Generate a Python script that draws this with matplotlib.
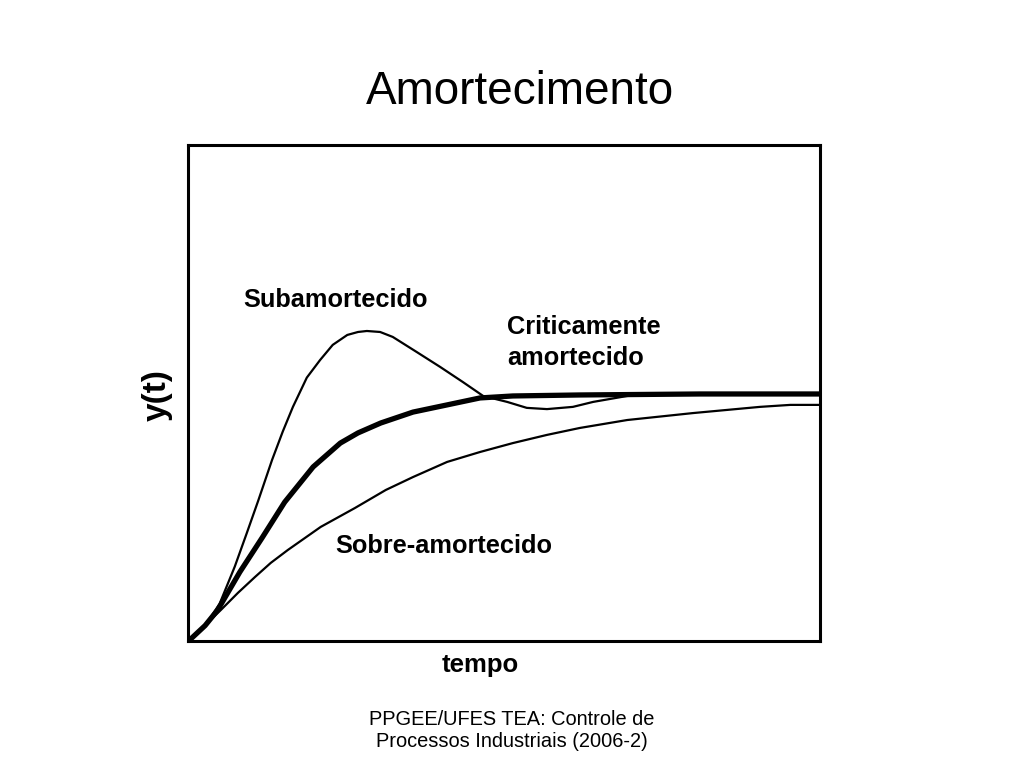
"""Amortecimento: step responses for three damping cases"""
import matplotlib
matplotlib.use('Agg')
import matplotlib.pyplot as plt

# values (tempo, y(t)), steady state ~1
t_sub = [0.06, 0.27, 0.50, 0.74, 0.93, 1.11, 1.33, 1.50, 1.66, 1.88, 2.09, 2.29, 2.52,
         2.69, 2.83, 3.04, 3.24, 3.62, 3.99, 4.35, 4.67, 5.05, 5.36, 5.68, 6.09, 6.41,
         6.95, 7.47, 10.0]
y_sub = [0.012, 0.062, 0.150, 0.300, 0.435, 0.565, 0.730, 0.845, 0.944, 1.062, 1.133, 1.194,
         1.234, 1.246, 1.250, 1.246, 1.226, 1.165, 1.105, 1.044, 0.988, 0.964, 0.940, 0.935,
         0.944, 0.964, 0.988, 0.996, 0.996]

t_crit = [0.06, 0.27, 0.47, 0.82, 1.17, 1.53, 1.98, 2.41, 2.69, 3.05, 3.56, 4.10,
          4.62, 5.14, 6.20, 8.10, 10.0]
y_crit = [0.012, 0.062, 0.125, 0.278, 0.415, 0.560, 0.702, 0.798, 0.839, 0.879, 0.923, 0.952,
          0.980, 0.988, 0.992, 0.996, 0.996]

t_sobre = [0.06, 0.52, 0.79, 1.06, 1.31, 1.58, 2.10, 2.64, 3.13, 3.56, 4.10, 4.62,
           5.14, 5.68, 6.20, 6.95, 7.99, 9.05, 9.53, 10.0]
y_sobre = [0.012, 0.125, 0.194, 0.258, 0.315, 0.367, 0.460, 0.536, 0.609, 0.661, 0.722, 0.762,
           0.798, 0.831, 0.859, 0.891, 0.919, 0.944, 0.952, 0.952]


def main():
    plt.rcParams['font.family'] = ['Liberation Sans', 'DejaVu Sans']

    fig = plt.figure(figsize=(10.24, 7.68), dpi=100)
    ax = fig.add_axes([0.1836, 0.1654, 0.6172, 0.6458])

    ax.plot(t_sub, y_sub, color='black', lw=1.6, solid_joinstyle='round')
    ax.plot(t_crit, y_crit, color='black', lw=3.8, solid_joinstyle='round')
    ax.plot(t_sobre, y_sobre, color='black', lw=1.6, solid_joinstyle='round')

    ax.set_xlim(0, 10)
    ax.set_ylim(0, 2)
    ax.set_xticks([])
    ax.set_yticks([])
    for sp in ax.spines.values():
        sp.set_linewidth(2.2)

    ax.text(0.87, 1.375, 'Subamortecido', fontsize=18.3, fontweight='bold', va='center')
    ax.text(5.05, 1.266, 'Criticamente', fontsize=18.3, fontweight='bold', va='center')
    ax.text(5.05, 1.141, 'amortecido', fontsize=18.3, fontweight='bold', va='center')
    ax.text(2.33, 0.383, 'Sobre-amortecido', fontsize=18.3, fontweight='bold', va='center')

    fig.text(0.508, 0.880, 'Amortecimento', fontsize=33, ha='center', va='center')
    fig.text(0.469, 0.134, 'tempo', fontsize=18.5, fontweight='bold', ha='center', va='center')
    fig.text(0.154, 0.486, 'y(t)', fontsize=24, fontweight='bold', rotation=90,
             ha='center', va='center')
    fig.text(0.5, 0.049, 'PPGEE/UFES TEA: Controle de\nProcessos Industriais (2006-2)',
             fontsize=14.4, ha='center', va='center', linespacing=1.2)

    fig.savefig('out.png', dpi=100)


if __name__ == '__main__':
    main()
